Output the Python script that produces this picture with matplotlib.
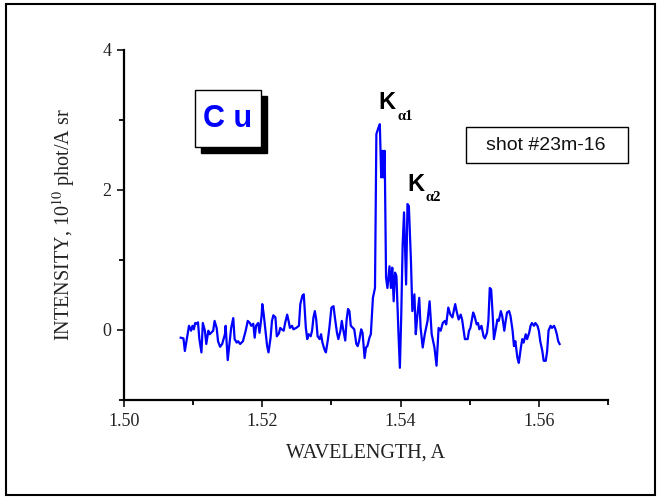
import matplotlib
matplotlib.use("Agg")
import matplotlib.pyplot as plt
from matplotlib.patches import Rectangle
from matplotlib.ticker import MultipleLocator

# Cu K-alpha spectrum
wavelength = [
    1.5082, 1.5086, 1.5088, 1.5090, 1.5094, 1.5097, 1.5099, 1.5101, 1.5103, 1.5105,
    1.5107, 1.5109, 1.5112, 1.5114, 1.5117, 1.5119, 1.5122, 1.5124, 1.5126, 1.5129,
    1.5131, 1.5134, 1.5136, 1.5139, 1.5142, 1.5146, 1.5147, 1.5150, 1.5153, 1.5155,
    1.5158, 1.5160, 1.5163, 1.5165, 1.5168, 1.5172, 1.5176, 1.5179, 1.5182, 1.5184,
    1.5187, 1.5189, 1.5191, 1.5194, 1.5196, 1.5199, 1.5200, 1.5202, 1.5205, 1.5207,
    1.5209, 1.5212, 1.5214, 1.5216, 1.5219, 1.5221, 1.5224, 1.5226, 1.5228, 1.5231,
    1.5233, 1.5236, 1.5238, 1.5240, 1.5243, 1.5245, 1.5249, 1.5253, 1.5255, 1.5258,
    1.5260, 1.5263, 1.5265, 1.5267, 1.5270, 1.5272, 1.5274, 1.5276, 1.5278, 1.5280,
    1.5283, 1.5285, 1.5287, 1.5290, 1.5292, 1.5295, 1.5297, 1.5300, 1.5303, 1.5305,
    1.5308, 1.5310, 1.5313, 1.5315, 1.5317, 1.5320, 1.5322, 1.5324, 1.5326, 1.5328,
    1.5331, 1.5333, 1.5336, 1.5338, 1.5340, 1.5343, 1.5345, 1.5348, 1.5350, 1.5352,
    1.5355, 1.5357, 1.5360, 1.5363, 1.5365, 1.5368, 1.5370, 1.5372, 1.5374, 1.5375,
    1.5377, 1.5379, 1.5381, 1.5384, 1.5386, 1.5388, 1.5390, 1.5392, 1.5394, 1.5397,
    1.5399, 1.5401, 1.5403, 1.5405, 1.5408, 1.5410, 1.5412, 1.5415, 1.5417, 1.5420,
    1.5422, 1.5424, 1.5427, 1.5429, 1.5432, 1.5435, 1.5439, 1.5442, 1.5445, 1.5449,
    1.5452, 1.5455, 1.5458, 1.5461, 1.5464, 1.5466, 1.5469, 1.5472, 1.5475, 1.5479,
    1.5481, 1.5484, 1.5487, 1.5489, 1.5493, 1.5497, 1.5499, 1.5501, 1.5505, 1.5507,
    1.5510, 1.5512, 1.5514, 1.5517, 1.5520, 1.5522, 1.5525, 1.5527, 1.5529, 1.5531,
    1.5533, 1.5535, 1.5538, 1.5540, 1.5542, 1.5545, 1.5547, 1.5550, 1.5552, 1.5554,
    1.5557, 1.5559, 1.5562, 1.5564, 1.5566, 1.5569, 1.5571, 1.5574, 1.5576, 1.5578,
    1.5581, 1.5583, 1.5586, 1.5588, 1.5590, 1.5593, 1.5595, 1.5598, 1.5600, 1.5602,
    1.5605, 1.5607, 1.5610, 1.5612, 1.5614, 1.5617, 1.5619, 1.5622, 1.5624, 1.5626,
    1.5628, 1.5630,
]
intensity = [
    -0.11, -0.12, -0.30, -0.18, 0.06, -0.01, 0.06, 0.01, 0.10, 0.09,
    0.11, -0.13, -0.32, 0.10, -0.01, -0.20, -0.01, -0.06, -0.04, -0.01,
    0.13, 0.03, -0.16, -0.24, -0.20, -0.06, 0.06, -0.43, -0.16, 0.03,
    0.17, -0.13, -0.18, -0.16, -0.20, -0.16, -0.01, 0.13, 0.10, 0.06,
    0.09, -0.11, 0.06, 0.10, -0.04, 0.20, 0.37, 0.23, -0.04, -0.23,
    -0.32, -0.11, 0.13, 0.21, 0.18, -0.09, -0.05, 0.03, 0.01, -0.01,
    0.10, 0.22, 0.13, 0.03, 0.06, 0.01, 0.03, 0.06, 0.37, 0.49,
    0.51, 0.03, -0.13, -0.06, -0.09, -0.01, 0.18, 0.27, 0.15, -0.09,
    -0.13, -0.06, -0.18, -0.28, -0.32, -0.13, 0.03, 0.32, 0.34, 0.18,
    -0.04, -0.13, -0.01, 0.13, 0.01, -0.15, 0.15, 0.30, 0.27, 0.06,
    0.03, 0.01, -0.20, -0.23, -0.16, 0.01, -0.04, -0.40, -0.25, -0.23,
    -0.11, -0.06, 0.46, 0.60, 2.80, 2.89, 2.94, 2.18, 2.56, 2.18,
    2.56, 0.75, 0.60, 0.91, 0.60, 0.89, 0.41, 0.82, 0.77, -0.06,
    -0.54, 0.22, 1.22, 1.68, 0.65, 1.80, 1.77, 0.99, 0.27, 0.51,
    -0.06, 0.18, 0.46, 0.03, -0.25, -0.06, 0.13, 0.41, -0.06, -0.25,
    -0.51, 0.03, -0.01, 0.10, 0.13, 0.08, 0.32, 0.22, 0.18, 0.37,
    0.27, 0.15, 0.22, 0.15, -0.13, -0.13, -0.01, 0.03, 0.25, 0.20,
    0.08, 0.10, 0.01, 0.06, -0.09, -0.12, -0.04, 0.13, 0.60, 0.58,
    0.25, -0.13, 0.03, 0.15, 0.13, 0.27, 0.20, -0.01, 0.13, 0.25,
    0.27, 0.20, -0.01, -0.23, -0.16, -0.40, -0.47, -0.25, -0.13, -0.18,
    -0.06, -0.13, -0.04, 0.06, 0.10, 0.06, 0.10, 0.06, -0.01, -0.16,
    -0.30, -0.44, -0.44, -0.30, -0.01, 0.06, 0.03, 0.06, 0.01, -0.06,
    -0.16, -0.20,
]

x_ticks = [1.50, 1.52, 1.54, 1.56]
x_tick_labels = ["1.50", "1.52", "1.54", "1.56"]
y_ticks = [0, 2, 4]

W, H = 658, 498


def fx(px):
    return px / W


def fy(py):
    return 1 - py / H


serif = "Liberation Serif"
sans = "Liberation Sans"
plt.rcParams["mathtext.fontset"] = "stix"

fig = plt.figure(figsize=(6.58, 4.98), dpi=100)
ax = fig.add_axes([fx(124), fy(400), fx(608) - fx(124), fy(50) - fy(400)])

ax.plot(wavelength, intensity, color="#0000ff", lw=1.6)

ax.set_xlim(1.50, 1.57)
ax.set_ylim(-1, 4)
ax.set_xticks(x_ticks)
ax.set_xticklabels(x_tick_labels)
ax.xaxis.set_minor_locator(MultipleLocator(0.01))
ax.set_yticks(y_ticks)
ax.yaxis.set_minor_locator(MultipleLocator(1))

for side in ("top", "right"):
    ax.spines[side].set_visible(False)
for side in ("left", "bottom"):
    ax.spines[side].set_linewidth(1.6)

ax.tick_params(which="major", direction="out", length=5, width=1.3,
               labelsize=13, pad=4, colors="#222222")
ax.tick_params(which="minor", direction="out", length=3.5, width=1.3)
for lab in ax.get_xticklabels() + ax.get_yticklabels():
    lab.set_fontfamily(serif)

ax.set_xlabel("WAVELENGTH, A", fontsize=14.5, family=serif, color="#222222")
ax.set_ylabel(r"INTENSITY, 10$^{10}$ phot/A sr", fontsize=14.5, family=serif,
              color="#222222")
ax.xaxis.set_label_coords(0.5, -0.125)
ax.yaxis.set_label_coords(-0.097, 0.5)

# outer frame
fig.add_artist(Rectangle((fx(6), fy(495)), fx(655) - fx(6), fy(4) - fy(495),
                         transform=fig.transFigure, fill=False,
                         edgecolor="black", lw=1.5))

# Cu label box with drop shadow
fig.add_artist(Rectangle((fx(201), fy(153)), fx(66), fy(0) - fy(57),
                         transform=fig.transFigure, facecolor="black",
                         edgecolor="black", lw=1))
fig.add_artist(Rectangle((fx(195), fy(147)), fx(66), fy(0) - fy(57),
                         transform=fig.transFigure, facecolor="white",
                         edgecolor="black", lw=1))
fig.text(fx(228), fy(119), "C u", fontsize=22, fontweight="bold",
         color="#0000ff", family=sans, ha="center", va="center")

# shot label box
fig.add_artist(Rectangle((fx(466), fy(163)), fx(162), fy(0) - fy(36),
                         transform=fig.transFigure, facecolor="white",
                         edgecolor="black", lw=1))
fig.text(fx(546), fy(145), "shot #23m-16", fontsize=14, family=sans,
         color="#111111", ha="center", va="center")

# K alpha line labels
fig.text(fx(378), fy(109), "K", fontsize=17, fontweight="bold", family=sans,
         ha="left", va="baseline")
fig.text(fx(397), fy(120), "α1", fontsize=10.5, fontweight="bold", family=serif,
         ha="left", va="baseline")
fig.text(fx(407), fy(191), "K", fontsize=17, fontweight="bold", family=sans,
         ha="left", va="baseline")
fig.text(fx(426), fy(201), "α2", fontsize=10.5, fontweight="bold", family=serif,
         ha="left", va="baseline")

fig.savefig("out.png", dpi=100)
